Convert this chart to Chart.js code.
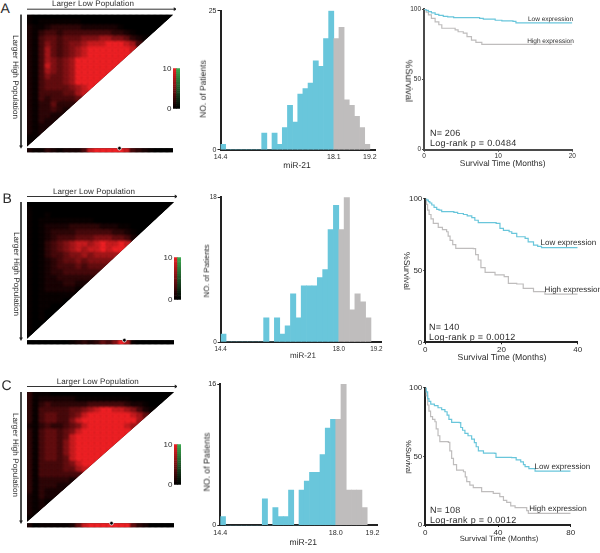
<!DOCTYPE html>
<html>
<head>
<meta charset="utf-8">
<title>miR-21 X-tile panels</title>
<script src="https://cdn.jsdelivr.net/npm/chart.js@4"></script>
<style>
  html, body { margin: 0; padding: 0; background: #fff; overflow: hidden; }
  #page { position: relative; width: 600px; height: 553px; overflow: hidden; }
  #page canvas { position: absolute; }
  .label { position: absolute; white-space: nowrap; color: #2b2b2b; font-family: 'Liberation Sans', Arial, sans-serif; line-height: 1; text-rendering: geometricPrecision; }
</style>
</head>
<body>
<div id="page"></div>
<script>
// Heat triangles: one digit (0-9) per cell, first row is the top edge
const heatA = [
  '100000000000000000000000', '10111111100000000000000', '2112333332222221000000', '213443444444443321000',
  '21455455566677665321', '2146545667888999874', '214754567899999998', '21475456789999999',
  '2147656799999999', '214865679999999', '21476567999999', '2146556799999',
  '214555679999', '21455556789', '2144445578', '214344445',
  '21335333', '2133432', '213322', '21322', '2122', '212', '11', '1',
];
const heatB = [
  '000000000000000000000000', '10000000000000000000000', '1001000000000000000000', '101111111110000000000',
  '10122223333322211000', '1012333344444433210', '101234445556665542', '10134567887898898',
  '1013456787889899', '101344566767777', '10123455656666', '1012344454555',
  '101233444444', '10122333333', '1012223322', '101222221',
  '10111111', '1011110', '101100', '10100', '1010', '100', '10', '0',
];
const heatC = [
  '311100000000000000000000', '31222222111111111000000', '3134333333444444322100', '314444455678998876421',
  '31455445689999999875', '3145544689999999997', '213433456899999987', '31455456899999999',
  '3145545899999999', '314554689999999', '31455468999999', '3145546899999',
  '314554589999', '31444456899', '3144445578', '314444444',
  '31333332', '3133322', '313222', '21322', '2121', '212', '21', '1',
];
// Strip under each triangle and the column of its marked cut point
const stripA = '211321222489999984321000';
const stripB = '000000012323546971000000';
const stripC = '201111125899999995320000';
const dotCellA = 15.2;
const dotCellB = 15.9;
const dotCellC = 13.8;
const scaleLabels = ['0', '10'];

// Histograms: patients per bin, bins before the cut are blue
const binCountsA = [1, 0, 0, 0, 0, 0, 0, 0, 3, 0, 3, 1, 4, 8, 5, 10, 11, 12, 16, 15, 20, 25, 20, 22, 9, 8, 6, 4, 1];
const binCountsB = [1, 0, 0, 0, 0, 0, 0, 0, 3, 0, 3, 1, 2, 6, 3, 7, 7, 7, 8, 9, 14, 17, 14, 18, 4, 6, 5, 3];
const binCountsC = [1, 0, 0, 0, 0, 0, 0, 0, 3, 0, 2, 1, 1, 4, 0, 4, 5, 6, 6, 8, 11, 12, 12, 16, 4, 4, 4, 2];
const cutBin = 22;
const binTicks = [0, 22, 29];
const binLabelsA = ['14.4', '18.1', '19.2'];
const binLabelsBC = ['14.4', '18.0', '19.2'];

// Survival curves
const lowMonthsA = [0, 0.3, 0.6, 1, 1.5, 2, 2.6, 3.2, 4, 7.5, 8, 9.6, 10.5, 12, 12.4, 20];
const lowSurvivalA = [100, 99.3, 98.3, 97.5, 96.4, 95.7, 95, 94.6, 94, 93.6, 93, 92.2, 91.8, 91.4, 90.3, 90.3];
const highMonthsA = [0, 0.3, 0.6, 1, 1.5, 2, 2.4, 4.2, 4.6, 5.3, 5.8, 6.4, 7, 7.8, 20];
const highSurvivalA = [100, 98, 96, 93.5, 91, 89, 86.5, 85.3, 84, 83, 80.5, 78, 76.5, 75, 75];

const lowMonthsB = [0, 0.4, 0.8, 1.2, 1.7, 2.3, 3, 3.6, 4.3, 7.5, 8.5, 10, 11, 12.2, 13, 13.9, 18.6, 19.6, 20.5, 22, 22.7, 24, 26.2, 27, 28.4, 29.5, 30.5, 40];
const lowSurvivalB = [100, 99, 98, 97, 95.6, 94, 92.6, 92, 91, 90.5, 89.7, 89, 88, 86.8, 85, 83.3, 82.8, 79.4, 78, 77, 75.9, 73.5, 72.4, 70, 67.7, 66.8, 65.9, 65.9];
const highMonthsB = [0, 0.3, 0.6, 1, 1.5, 2.1, 3.4, 4.5, 5.6, 6, 6.5, 7.2, 8, 12.6, 13.2, 13.9, 14.6, 15.7, 18.3, 20.7, 21.8, 24, 25.7, 28.4, 31.4, 40];
const highSurvivalB = [100, 96, 92, 89, 86, 82.8, 80, 78.5, 77, 74, 71, 68, 65.4, 65.2, 61, 57.3, 52, 48.7, 46.9, 45.7, 41, 40.6, 37.6, 35.3, 33.6, 33.6];

const lowMonthsC = [0, 0.5, 1.3, 2, 3, 5, 7, 9, 10.8, 12, 13, 14.5, 18.7, 19.5, 20.5, 21.8, 23.5, 25.5, 27, 28, 29.2, 32, 38.3, 38.9, 47.5, 50, 52.5, 54, 54.9, 57, 60.4, 80];
const lowSurvivalC = [100, 97, 92, 90, 88, 87, 85.4, 84, 82.5, 80, 77, 74.8, 74.5, 71, 69, 66.7, 65, 62.6, 60, 57, 54, 52.4, 52.2, 49.3, 49, 47.5, 46, 44, 42.5, 41, 39.3, 39.3];
const highMonthsC = [0, 0.5, 1.3, 2, 2.9, 4, 5.3, 6, 7, 8, 12.7, 13.5, 14.5, 15.5, 17.2, 21, 22, 22.8, 24.5, 26.4, 31, 37.4, 41, 43, 44.8, 47, 49.4, 55.8, 56.7, 80];
const highSurvivalC = [100, 94, 87.4, 83, 78.9, 77, 75.2, 70, 65, 60.7, 60.2, 54, 48.5, 44, 40, 38.8, 35, 31.6, 29, 27.2, 24.3, 23, 20.6, 18, 16.5, 14, 12.6, 10.4, 8.5, 8.5];
const survivalTicks = [0, 50, 100];

const BLUE = '#69c6db';
const GREY = '#bfbdbd';
const RED = [236, 32, 36];
const GREEN = [60, 170, 80];
const page = document.getElementById('page');

Chart.defaults.font.family = "'Liberation Sans', Arial, sans-serif";
Chart.defaults.color = '#2b2b2b';
Chart.defaults.animation = false;
Chart.defaults.responsive = false;
Chart.defaults.devicePixelRatio = 1;
Chart.defaults.plugins.legend.display = false;
Chart.defaults.plugins.tooltip.enabled = false;

function addText(text, x, y, size, opts = {}) {
  const el = document.createElement('div');
  el.className = 'label';
  el.textContent = text;
  el.style.left = x + 'px';
  el.style.top = y + 'px';
  el.style.fontSize = size + 'px';
  if (opts.spacing) el.style.letterSpacing = opts.spacing + 'px';
  el.style.transform = (opts.left ? 'translate(0,-50%)' : 'translate(-50%,-50%)') + (opts.rotate ? ` rotate(${opts.rotate}deg)` : '');
  page.appendChild(el);
}

// Canvas placed around a plot area, returns the canvas and the margins left over
function addCanvas(area, left, top, right, bottom) {
  const box = {
    left: Math.floor(area.left - left),
    top: Math.floor(area.top - top),
    right: Math.ceil(area.right + right),
    bottom: Math.ceil(area.bottom + bottom),
  };
  const canvas = document.createElement('canvas');
  canvas.width = box.right - box.left;
  canvas.height = box.bottom - box.top;
  canvas.style.left = box.left + 'px';
  canvas.style.top = box.top + 'px';
  page.appendChild(canvas);
  return {
    canvas,
    marginLeft: area.left - box.left,
    marginTop: area.top - box.top,
    marginRight: box.right - area.right,
    marginBottom: box.bottom - area.bottom,
  };
}

// Mid digits are darker than a straight ramp in the original colour key
function heatColor(digit) {
  const t = Math.pow(digit / 9, 1.5);
  return `rgb(${RED[0] * t},${RED[1] * t},${RED[2] * t})`;
}

// Soft cells: clips them to their shape and blurs them on a black base
const softCells = {
  id: 'softCells',
  beforeDatasetDraw(chart, args) {
    const shape = chart.data.datasets[args.index].shape;
    if (!shape) return;
    const { x, y } = chart.scales;
    const ctx = chart.ctx;
    ctx.save();
    ctx.beginPath();
    if (shape === 'triangle') {
      ctx.moveTo(x.getPixelForValue(0), y.getPixelForValue(0));
      ctx.lineTo(x.getPixelForValue(24), y.getPixelForValue(0));
      ctx.lineTo(x.getPixelForValue(0), y.getPixelForValue(24));
    } else {
      ctx.rect(x.getPixelForValue(0), y.getPixelForValue(shape.top), x.getPixelForValue(24) - x.getPixelForValue(0), y.getPixelForValue(shape.bottom) - y.getPixelForValue(shape.top));
    }
    ctx.closePath();
    ctx.fillStyle = '#000';
    ctx.fill();
    ctx.clip();
    ctx.filter = 'blur(1.2px)';
  },
  afterDatasetDraw(chart, args) {
    if (chart.data.datasets[args.index].shape) chart.ctx.restore();
  },
};

function drawHeat(area, rows, strip, dotCell, stripGap) {
  const cellW = (area.right - area.left) / 24;
  const cellH = (area.bottom - area.top) / 24;
  const placed = addCanvas(area, 17, 9, 3, 14);
  const stripTop = 24 + stripGap / cellH;
  const stripBottom = stripTop + 4 / cellH;
  const cells = [];
  const colors = [];
  rows.forEach((row, r) => {
    [...row].forEach((digit, c) => {
      cells.push({ x: c + 0.5, y: r + 0.5 });
      colors.push(heatColor(+digit));
    });
  });
  const arrowTop = -5.5 / cellH;
  const arrowLeft = -6 / cellW;
  new Chart(placed.canvas, {
    type: 'scatter',
    data: {
      datasets: [
        { data: [{ x: dotCell, y: stripTop }], order: 0, pointRadius: 1.9, pointBackgroundColor: '#000', pointBorderColor: '#fff', pointBorderWidth: 0.8 },
        { data: [{ x: 0, y: arrowTop }, { x: 24.3, y: arrowTop }], order: 1, showLine: true, borderColor: '#333', borderWidth: 1, pointRadius: [0, 2.2], pointStyle: 'triangle', pointRotation: 90, pointBackgroundColor: '#222', pointBorderWidth: 0 },
        { data: [{ x: arrowLeft, y: 0 }, { x: arrowLeft, y: 24 }], order: 2, showLine: true, borderColor: '#333', borderWidth: 1, pointRadius: [0, 2.2], pointStyle: 'triangle', pointRotation: 180, pointBackgroundColor: '#222', pointBorderWidth: 0 },
        { data: [...strip].map((digit, c) => ({ x: c + 0.5, y: (stripTop + stripBottom) / 2 })), order: 3, shape: { top: stripTop, bottom: stripBottom }, pointStyle: 'rect', pointRadius: cellW * 0.9, pointBackgroundColor: [...strip].map(d => heatColor(+d)), pointBorderWidth: 0 },
        { data: cells, order: 4, shape: 'triangle', pointStyle: 'rect', pointRadius: cellW * 0.9, pointBackgroundColor: colors, pointBorderWidth: 0 },
      ],
    },
    options: {
      layout: { autoPadding: false },
      scales: {
        x: { display: false, min: -placed.marginLeft / cellW, max: 24 + placed.marginRight / cellW },
        y: { display: false, reverse: true, min: -placed.marginTop / cellH, max: 24 + placed.marginBottom / cellH },
      },
    },
    plugins: [softCells],
  });
}

function drawColorBar(area) {
  const placed = addCanvas(area, 14, 5, 1, 5);
  const steps = 20;
  const datasets = [];
  for (let i = 0; i < steps; i++) {
    const t = (i + 0.5) / steps;
    datasets.push({
      data: [10 / steps, 10 / steps],
      backgroundColor: [`rgb(${RED[0] * t},${RED[1] * t},${RED[2] * t})`, `rgb(${GREEN[0] * t},${GREEN[1] * t},${GREEN[2] * t})`],
      borderWidth: 0,
    });
  }
  new Chart(placed.canvas, {
    type: 'bar',
    data: { labels: ['red', 'green'], datasets },
    options: {
      layout: { autoPadding: false, padding: { top: placed.marginTop, right: placed.marginRight, bottom: placed.marginBottom } },
      datasets: { bar: { categoryPercentage: 1, barPercentage: 1 } },
      scales: {
        x: { display: false, stacked: true },
        y: {
          stacked: true, min: 0, max: 10,
          grid: { display: false, drawTicks: false }, border: { display: false },
          afterFit: s => { s.width = placed.marginLeft; },
          afterBuildTicks: s => { s.ticks = scaleLabels.map(v => ({ value: +v })); },
          ticks: { font: { size: 8 }, padding: 1.5, autoSkip: false },
        },
      },
    },
  });
}

function drawHistogram(area, counts, maxCount, tickLabels, tickSize) {
  const placed = addCanvas(area, 20, 6, 14, 14);
  new Chart(placed.canvas, {
    type: 'bar',
    data: {
      datasets: [{
        data: counts.map((count, i) => ({ x: i + 0.5, y: count })),
        backgroundColor: counts.map((count, i) => (i < cutBin ? BLUE : GREY)),
        borderWidth: 0,
        categoryPercentage: 1,
        barPercentage: 1,
      }],
    },
    options: {
      layout: { autoPadding: false, padding: { top: placed.marginTop, right: placed.marginRight } },
      scales: {
        x: {
          type: 'linear', min: 0, max: 30, offset: false,
          grid: { offset: false, drawOnChartArea: false, drawTicks: false },
          border: { color: '#222', width: 2 },
          afterFit: s => { s.height = placed.marginBottom; },
          afterBuildTicks: s => { s.ticks = binTicks.map(v => ({ value: v })); },
          ticks: { font: { size: tickSize }, padding: 3, autoSkip: false, maxRotation: 0, callback: (v, i) => tickLabels[i] },
        },
        y: {
          min: 0, max: maxCount,
          grid: { drawOnChartArea: false, tickLength: 3, color: '#222' },
          border: { color: '#222', width: 2 },
          afterFit: s => { s.width = placed.marginLeft; },
          afterBuildTicks: s => { s.ticks = [{ value: 0 }, { value: maxCount }]; },
          ticks: { font: { size: tickSize }, padding: 1, autoSkip: false },
        },
      },
    },
  });
}

function drawSurvival(area, curves, maxMonths, tickSize, axisColor) {
  const placed = addCanvas(area, 24, 6, 12, 14);
  const toPoints = (months, survival) => months.map((m, i) => ({ x: m, y: survival[i] }));
  new Chart(placed.canvas, {
    type: 'line',
    data: {
      datasets: [
        { data: toPoints(curves.lowMonths, curves.lowSurvival), borderColor: BLUE, borderWidth: 1.2, stepped: true, pointRadius: 0 },
        { data: toPoints(curves.highMonths, curves.highSurvival), borderColor: GREY, borderWidth: 1.2, stepped: true, pointRadius: 0 },
      ],
    },
    options: {
      layout: { autoPadding: false, padding: { top: placed.marginTop, right: placed.marginRight } },
      scales: {
        x: {
          type: 'linear', min: 0, max: maxMonths,
          grid: { drawOnChartArea: false, tickLength: 2, color: axisColor },
          border: { color: axisColor, width: 2 },
          afterFit: s => { s.height = placed.marginBottom; },
          afterBuildTicks: s => { s.ticks = [0, maxMonths / 2, maxMonths].map(v => ({ value: v })); },
          ticks: { font: { size: tickSize }, padding: 1, autoSkip: false, maxRotation: 0 },
        },
        y: {
          min: 0, max: 100,
          grid: { drawOnChartArea: false, tickLength: 2, color: axisColor },
          border: { color: axisColor, width: 2 },
          afterFit: s => { s.width = placed.marginLeft; },
          afterBuildTicks: s => { s.ticks = survivalTicks.map(v => ({ value: v })); },
          ticks: { font: { size: tickSize }, padding: 1, autoSkip: false },
        },
      },
    },
  });
}

// Row A
addText('A', 0.5, 8, 14, { left: true });
drawHeat({ left: 27, right: 173, top: 14.7, bottom: 146.5 }, heatA, stripA, dotCellA, 1.7);
drawColorBar({ left: 173, right: 180, top: 67, bottom: 110 });
drawHistogram({ left: 220.5, right: 375, top: 10.7, bottom: 149.8 }, binCountsA, 25, binLabelsA, 7);
drawSurvival({ left: 424, right: 572.3, top: 9.3, bottom: 149.7 }, { lowMonths: lowMonthsA, lowSurvival: lowSurvivalA, highMonths: highMonthsA, highSurvival: highSurvivalA }, 20, 6.5, '#4a4a4a');
addText('Larger Low Population', 93, 3.7, 8, { spacing: 0.1 });
addText('Larger High Population', 15, 77, 8, { rotate: 90, spacing: 0.1 });
addText('NO. of Patients', 202.7, 88.5, 8.5, { rotate: -90 });
addText('miR-21', 297, 165, 8.5);
addText('Low expression', 550.5, 19.5, 6.5);
addText('High expression', 550.5, 42, 6.5);
addText('N= 206', 430, 133, 9, { left: true, spacing: 0.2 });
addText('Log-rank p = 0.0484', 430, 143, 9, { left: true, spacing: 0.3 });
addText('Survival Time (Months)', 502.7, 163, 8.4);
addText('%Survival', 408, 81, 9.5, { rotate: 90 });

// Row B
addText('B', 2.5, 198, 14, { left: true });
drawHeat({ left: 27, right: 174, top: 202, bottom: 338.7 }, heatB, stripB, dotCellB, 1.5);
drawColorBar({ left: 174, right: 181, top: 256, bottom: 300.7 });
drawHistogram({ left: 220.7, right: 381.7, top: 197.3, bottom: 342 }, binCountsB, 18, binLabelsBC, 6.3);
drawSurvival({ left: 425.3, right: 577.7, top: 198.7, bottom: 342.3 }, { lowMonths: lowMonthsB, lowSurvival: lowSurvivalB, highMonths: highMonthsB, highSurvival: highSurvivalB }, 40, 8, '#222');
addText('Larger Low Population', 94, 192, 8, { spacing: 0.1 });
addText('Larger High Population', 15.7, 274, 8, { rotate: 90, spacing: 0.1 });
addText('NO. of Patients', 206.7, 270.5, 7.8, { rotate: -90 });
addText('miR-21', 303, 355.7, 8);
addText('Low expression', 568.3, 243, 8);
addText('High expression', 573.3, 290, 8);
addText('N= 140', 429, 326.7, 9, { left: true, spacing: 0.2 });
addText('Log-rank p = 0.0012', 429, 337, 9, { left: true, spacing: 0.3 });
addText('Survival Time (Months)', 502, 357, 8.7);
addText('%Survival', 407.3, 270.5, 8.5, { rotate: 90 });

// Row C
addText('C', 1.5, 385, 14, { left: true });
drawHeat({ left: 27, right: 174, top: 392, bottom: 521.7 }, heatC, stripC, dotCellC, 1.5);
drawColorBar({ left: 174, right: 181, top: 443.7, bottom: 485.7 });
drawHistogram({ left: 220.3, right: 377.7, top: 384, bottom: 525.3 }, binCountsC, 16, binLabelsBC, 7.2);
drawSurvival({ left: 425.3, right: 570.7, top: 387.7, bottom: 525 }, { lowMonths: lowMonthsC, lowSurvival: lowSurvivalC, highMonths: highMonthsC, highSurvival: highSurvivalC }, 80, 8, '#222');
addText('Larger Low Population', 97.8, 381.7, 8, { spacing: 0.1 });
addText('Larger High Population', 14.7, 455, 8, { rotate: 90, spacing: 0.1 });
addText('NO. of Patients', 207, 461.5, 8.7, { rotate: -90 });
addText('miR-21', 303.3, 541.7, 8.5);
addText('Low expression', 562.3, 466.7, 8);
addText('High expression', 558, 509, 8);
addText('N= 108', 430, 509.7, 9, { left: true, spacing: 0.2 });
addText('Log-rank p = 0.0012', 430, 519.7, 9, { left: true, spacing: 0.3 });
addText('Survival Time (Months)', 499, 538.5, 7.7);
addText('%Survival', 408, 456.5, 7.5, { rotate: 90 });
</script>
</body>
</html>
